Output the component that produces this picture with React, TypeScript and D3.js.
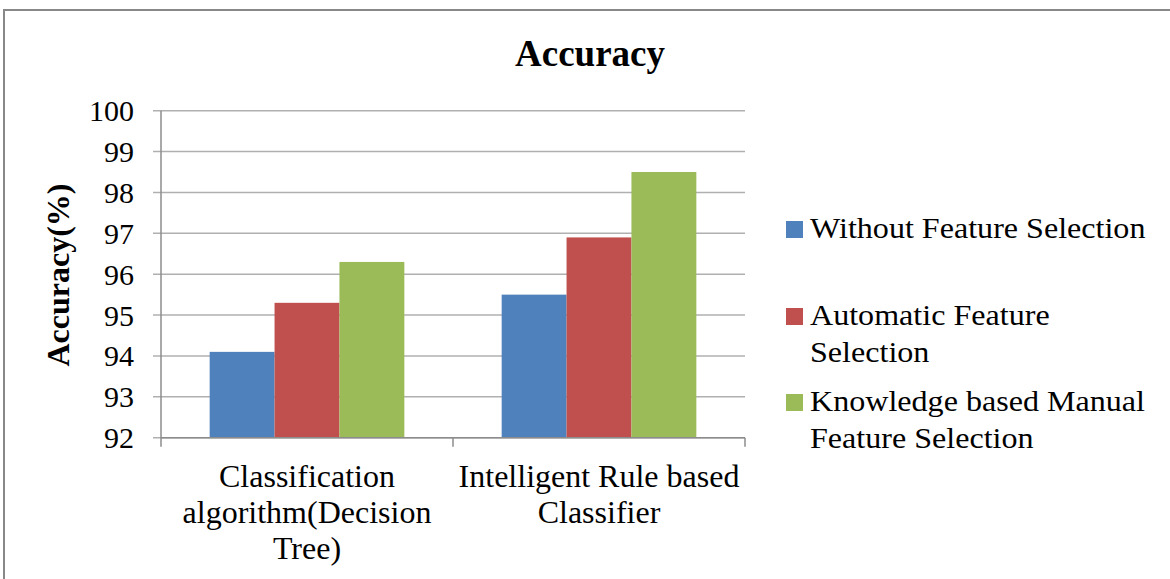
import React from 'react';
import * as d3 from 'd3';

// chart data
const categories = ['Classification algorithm(Decision Tree)', 'Intelligent Rule based Classifier'];
const categoryLines = [
  ['Classification', 'algorithm(Decision', 'Tree)'],
  ['Intelligent Rule based', 'Classifier'],
];
const seriesNames = [
  'Without Feature Selection',
  'Automatic Feature Selection',
  'Knowledge based Manual Feature Selection',
];
const legendLines = [
  ['Without Feature Selection'],
  ['Automatic Feature', 'Selection'],
  ['Knowledge based Manual', 'Feature Selection'],
];
const withoutFS = [94.1, 95.5];
const automaticFS = [95.3, 96.9];
const manualFS = [96.3, 98.5];
const yTicks = [92, 93, 94, 95, 96, 97, 98, 99, 100];
const colors = ['#4f81bd', '#c0504d', '#9bbb59'];

const FONT = '"Liberation Serif", "Times New Roman", serif';

export default function App() {
  const width = 1170;
  const height = 579;
  const left = 161;
  const right = 745;
  const top = 110.7;
  const bottom = 437.7;

  const series = [withoutFS, automaticFS, manualFS];

  const x0 = d3.scaleBand().domain(categories).range([left, right]).paddingInner(0).paddingOuter(0);
  // gap width 150%: 3 bars plus 1.5 bar widths of gap per category
  const x1 = d3
    .scaleBand()
    .domain(seriesNames)
    .range([0, x0.bandwidth()])
    .paddingInner(0)
    .paddingOuter(0.75);
  const y = d3.scaleLinear().domain([92, 100]).range([bottom, top]);

  return (
    <svg
      width={width}
      height={height}
      style={{ position: 'absolute', left: 0, top: 0, background: '#fff', fontFamily: FONT }}
    >
      {/* outer frame */}
      <rect x={4} y={10} width={width + 10} height={height + 10} fill="#fff" stroke="#888" strokeWidth={2} />

      <text x={590} y={66} textAnchor="middle" fontSize={37} fontWeight="bold" fill="#000">
        Accuracy
      </text>

      {/* gridlines + tick labels */}
      {yTicks.map((t) => (
        <g key={t}>
          <line x1={left - 8} x2={right} y1={y(t)} y2={y(t)} stroke="#b0b0b0" strokeWidth={1.5} />
          <text x={134} y={y(t)} dy="0.35em" textAnchor="end" fontSize={30} fill="#000">
            {t}
          </text>
        </g>
      ))}

      {/* bars */}
      {categories.map((c, i) => (
        <g key={c} transform={`translate(${x0(c)},0)`}>
          {series.map((s, j) => (
            <rect
              key={j}
              x={x1(seriesNames[j])}
              y={y(s[i])}
              width={x1.bandwidth()}
              height={bottom - y(s[i])}
              fill={colors[j]}
            />
          ))}
        </g>
      ))}

      {/* axes */}
      <line x1={left} x2={left} y1={top} y2={bottom} stroke="#8c8c8c" strokeWidth={1.5} />
      <line x1={left} x2={right} y1={bottom} y2={bottom} stroke="#8c8c8c" strokeWidth={1.5} />
      {[left, ...categories.map((c) => (x0(c) as number) + x0.bandwidth())].map((xv, i) => (
        <line key={i} x1={xv} x2={xv} y1={bottom} y2={bottom + 9} stroke="#8c8c8c" strokeWidth={1.5} />
      ))}

      {/* category labels */}
      {categories.map((c, i) => (
        <text key={c} textAnchor="middle" fontSize={32} fill="#000">
          {categoryLines[i].map((line, k) => (
            <tspan key={k} x={(x0(c) as number) + x0.bandwidth() / 2} y={487 + k * 36}>
              {line}
            </tspan>
          ))}
        </text>
      ))}

      {/* y axis title */}
      <text
        transform="translate(69,275) rotate(-90)"
        textAnchor="middle"
        fontSize={32}
        fontWeight="bold"
        fill="#000"
      >
        Accuracy(%)
      </text>

      {/* legend */}
      {legendLines.map((lines, i) => {
        const base = [238, 325, 411][i];
        return (
          <g key={i}>
            <rect x={786} y={base - 17} width={17} height={17} fill={colors[i]} />
            <g transform={`translate(810,${base}) scale(1.07,1)`}>
              <text fontSize={30} fill="#000">
                {lines.map((line, k) => (
                  <tspan key={k} x={0} y={k * 37}>
                    {line}
                  </tspan>
                ))}
              </text>
            </g>
          </g>
        );
      })}
    </svg>
  );
}
